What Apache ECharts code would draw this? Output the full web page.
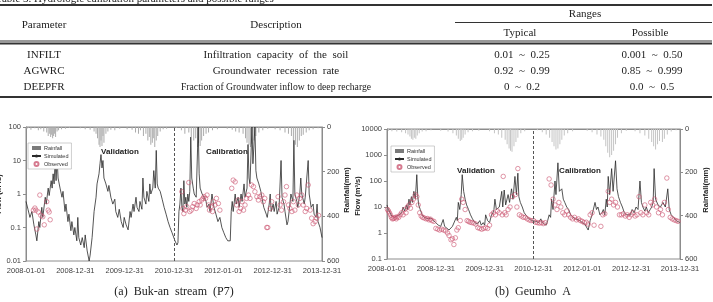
<!DOCTYPE html>
<html>
<head>
<meta charset="utf-8">
<script src="https://cdn.jsdelivr.net/npm/echarts@6/dist/echarts.min.js"></script>
<style>
html,body{margin:0;padding:0;background:#fff;}
#c{width:713px;height:302px;}
</style>
</head>
<body>
<div id="c"></div>
<script>
// ---------- Table data ----------
const tableCaption = 'Table 3. Hydrologic calibration parameters and possible ranges';
const tableHeaders = ['Parameter', 'Description', 'Ranges', 'Typical', 'Possible'];
const tableParams = ['INFILT', 'AGWRC', 'DEEPFR'];
const tableDescs = ['Infiltration  capacity  of  the  soil', 'Groundwater  recession  rate', 'Fraction of Groundwater inflow to deep recharge'];
const tableTypical = ['0.01  ~  0.25', '0.92  ~  0.99', '0  ~  0.2'];
const tablePossible = ['0.001  ~  0.50', '0.85  ~  0.999', '0.0  ~  0.5'];

// ---------- Axis tick labels ----------
const xTickLabels = ['2008-01-01', '2008-12-31', '2009-12-31', '2010-12-31', '2012-01-01', '2012-12-31', '2013-12-31'];
const aFlowTicks = ['0.01', '0.1', '1', '10', '100'];
const bFlowTicks = ['0.1', '1', '10', '100', '1000', '10000'];
const rainTicks = ['0', '200', '400', '600'];
const captions = ['(a)  Buk-an  stream  (P7)', '(b)  Geumho  A'];

// ---------- Chart (a) Buk-an stream: [decimal year, value] ----------
const aSimulated = [
[2008.00,0.6],[2008.04,0.35],[2008.08,0.2],[2008.12,0.3],[2008.16,0.12],[2008.20,0.06],[2008.22,0.04],[2008.26,0.15],[2008.28,0.1],
[2008.32,0.4],[2008.34,0.2],[2008.39,0.8],[2008.41,0.5],[2008.45,1.5],[2008.47,0.9],[2008.51,2.5],[2008.53,1.5],[2008.55,4],[2008.57,2],
[2008.59,10],[2008.61,2.5],[2008.63,12],[2008.65,3],[2008.69,1.5],[2008.73,0.8],[2008.75,1.2],[2008.79,0.3],[2008.81,0.5],[2008.85,0.15],
[2008.87,0.25],[2008.91,0.08],[2008.93,0.15],[2008.97,0.06],[2008.99,0.1],[2009.03,0.04],[2009.05,0.2],[2009.07,0.05],[2009.11,0.03],
[2009.14,0.05],[2009.18,0.025],[2009.20,0.06],[2009.24,0.02],[2009.28,0.01],[2009.30,0.015],[2009.34,0.05],[2009.38,0.3],[2009.42,0.8],
[2009.44,2],[2009.48,4],[2009.50,8],[2009.52,15],[2009.54,6],[2009.56,10],[2009.58,3],[2009.62,2],[2009.66,1.2],[2009.68,1.8],[2009.72,0.8],
[2009.76,0.5],[2009.80,0.7],[2009.82,0.3],[2009.86,0.2],[2009.89,0.35],[2009.93,0.15],[2009.97,0.1],[2009.99,0.2],[2010.03,0.12],[2010.07,0.085],
[2010.11,0.3],[2010.13,0.2],[2010.17,0.5],[2010.19,0.3],[2010.23,0.8],[2010.25,0.4],[2010.29,0.3],[2010.31,0.6],[2010.35,0.35],[2010.37,3],
[2010.39,0.8],[2010.43,0.5],[2010.45,1.2],[2010.49,0.6],[2010.51,2],[2010.53,1],[2010.57,1.5],[2010.59,5],[2010.62,1.5],[2010.64,20],
[2010.66,2],[2010.68,1.5],[2010.72,1.2],[2010.76,0.7],[2010.80,0.4],[2010.84,0.25],[2010.88,0.15],[2010.92,0.1],[2010.96,0.07],[2010.98,0.08],
[2011.02,0.04],[2011.06,0.03],[2011.08,0.035],[2011.10,0.3],[2011.12,0.5],[2011.14,1.5],[2011.16,0.4],[2011.18,0.3],[2011.20,2.5],[2011.22,0.5],
[2011.24,0.8],[2011.26,0.4],[2011.28,1],[2011.30,0.6],[2011.32,1.2],[2011.34,50],[2011.36,3],[2011.39,1.5],[2011.41,1],[2011.45,0.8],
[2011.49,100],[2011.51,4],[2011.53,1.5],[2011.57,1],[2011.61,0.8],[2011.65,0.6],[2011.67,0.4],[2011.71,0.5],[2011.73,0.3],[2011.77,1],
[2011.81,0.4],[2011.85,0.25],[2011.89,0.15],[2011.93,0.2],[2011.97,0.1],[2012.01,0.07],[2012.05,0.05],[2012.09,0.04],[2012.14,0.04],
[2012.16,0.3],[2012.18,0.6],[2012.20,0.3],[2012.24,1],[2012.26,0.5],[2012.30,0.8],[2012.32,0.4],[2012.36,1],[2012.38,0.6],[2012.42,2],
[2012.44,0.8],[2012.48,1.5],[2012.50,30],[2012.52,3],[2012.54,2],[2012.58,100],[2012.60,8],[2012.64,100],[2012.66,5],[2012.68,3],[2012.72,2],
[2012.76,1.2],[2012.78,0.8],[2012.82,0.4],[2012.87,0.25],[2012.89,0.2],[2012.93,0.5],[2012.95,1],[2012.97,0.3],[2013.01,0.5],[2013.03,0.3],
[2013.07,0.6],[2013.09,0.25],[2013.13,0.4],[2013.17,10],[2013.19,0.8],[2013.23,0.5],[2013.25,0.3],[2013.29,0.12],[2013.31,0.15],[2013.35,0.5],
[2013.37,1],[2013.41,0.6],[2013.43,40],[2013.45,1],[2013.49,0.6],[2013.51,0.4],[2013.55,1],[2013.57,3],[2013.59,1],[2013.64,0.5],[2013.66,0.8],
[2013.72,10],[2013.74,1],[2013.78,0.4],[2013.82,0.5],[2013.84,0.25],[2013.88,0.2],[2013.90,0.5],[2013.92,0.15],[2013.96,0.1],[2014.00,0.05]
];
const aObserved = [
[2008.15,0.33],[2008.18,0.38],[2008.20,0.33],[2008.22,0.09],[2008.25,0.29],[2008.28,0.93],[2008.30,0.23],[2008.34,0.21],[2008.37,0.12],
[2008.42,0.59],[2008.45,0.33],[2008.47,0.29],[2008.49,0.17],
[2011.16,1.17],[2011.18,0.37],[2011.20,0.26],[2011.23,0.33],[2011.26,0.42],[2011.30,2.2],[2011.32,0.30],[2011.35,0.33],[2011.38,0.42],
[2011.41,0.52],[2011.45,0.37],[2011.47,0.47],[2011.51,0.59],[2011.53,0.47],[2011.56,0.66],[2011.59,0.74],[2011.61,0.83],[2011.64,0.74],
[2011.67,0.93],[2011.70,0.47],[2011.72,0.33],[2011.75,0.42],[2011.78,0.30],[2011.80,0.59],[2011.83,0.47],[2011.86,0.74],[2011.90,0.52],
[2011.93,0.33],[2012.17,1.48],[2012.20,2.6],[2012.24,2.3],[2012.27,0.47],[2012.30,0.66],[2012.32,0.30],[2012.35,0.37],[2012.38,0.59],
[2012.41,0.33],[2012.44,0.47],[2012.47,0.74],[2012.51,0.93],[2012.54,0.74],[2012.57,1.86],[2012.61,1.66],[2012.64,1.17],[2012.68,0.83],
[2012.71,0.66],[2012.74,0.83],[2012.78,0.93],[2012.81,0.59],[2012.84,0.74],[2012.88,0.1],[2012.90,0.1],[2012.95,0.37],[2012.98,0.59],
[2013.11,0.83],[2013.15,0.47],[2013.18,0.33],[2013.22,0.59],[2013.25,0.93],[2013.28,1.66],[2013.32,0.47],[2013.35,0.37],[2013.39,0.30],
[2013.42,0.59],[2013.45,0.33],[2013.49,0.93],[2013.52,0.47],[2013.55,0.74],[2013.59,0.93],[2013.62,0.47],[2013.66,0.30],[2013.69,0.37],
[2013.72,1.86],[2013.76,0.33],[2013.79,0.19],[2013.82,0.13],[2013.86,0.15],[2013.89,0.19],[2013.93,0.23]
];
const aRainfall = [
[2008.02,8],[2008.05,5],[2008.10,12],[2008.18,6],[2008.25,15],[2008.30,10],[2008.36,20],[2008.42,25],[2008.45,40],[2008.48,30],[2008.50,45],
[2008.52,35],[2008.54,50],[2008.56,40],[2008.58,30],[2008.60,45],[2008.63,20],[2008.66,15],[2008.72,10],[2008.80,8],[2008.88,5],
[2009.10,6],[2009.20,10],[2009.30,12],[2009.38,20],[2009.42,30],[2009.45,50],[2009.48,80],[2009.50,90],[2009.52,60],[2009.54,85],[2009.56,40],
[2009.58,70],[2009.62,30],[2009.66,20],[2009.72,12],[2009.80,15],[2009.90,8],
[2010.05,10],[2010.15,12],[2010.22,25],[2010.28,30],[2010.32,15],[2010.38,40],[2010.43,30],[2010.47,60],[2010.50,45],[2010.53,80],[2010.56,70],
[2010.58,50],[2010.61,90],[2010.64,60],[2010.67,40],[2010.72,20],[2010.78,10],[2010.85,8],
[2011.05,5],[2011.15,15],[2011.22,30],[2011.30,25],[2011.35,45],[2011.40,60],[2011.44,50],[2011.48,90],[2011.50,70],[2011.53,85],[2011.56,60],
[2011.60,40],[2011.65,30],[2011.70,25],[2011.78,15],[2011.88,10],
[2012.08,8],[2012.18,12],[2012.25,20],[2012.32,25],[2012.40,30],[2012.45,50],[2012.48,70],[2012.52,80],[2012.55,90],[2012.58,75],[2012.62,60],
[2012.66,40],[2012.72,25],[2012.80,15],[2012.90,8],
[2013.05,10],[2013.15,15],[2013.25,25],[2013.32,30],[2013.38,40],[2013.42,60],[2013.46,80],[2013.50,90],[2013.54,60],[2013.58,40],[2013.62,35],
[2013.68,25],[2013.74,15],[2013.82,10],[2013.92,6]
];

// ---------- Chart (b) Geumho A: [decimal year, value] ----------
const bSimulated = [
[2008.00,12],[2008.03,8],[2008.06,6],[2008.10,4.5],[2008.15,4],[2008.20,4.5],[2008.25,5],[2008.30,6],[2008.33,10],[2008.36,7],[2008.40,12],
[2008.42,8],[2008.45,20],[2008.47,12],[2008.50,25],[2008.52,15],[2008.55,40],[2008.58,20],[2008.61,175],[2008.63,25],[2008.65,12],[2008.68,8],
[2008.72,5],[2008.76,4],[2008.80,4.5],[2008.85,3.5],[2008.90,3.8],[2008.95,3],[2009.00,2.5],[2009.05,2],[2009.10,1.8],[2009.15,3.3],[2009.18,1.8],
[2009.22,1.6],[2009.27,1.3],[2009.31,1.1],[2009.34,1.8],[2009.38,2],[2009.42,4],[2009.44,3],[2009.46,15],[2009.49,8],[2009.52,30],[2009.54,175],
[2009.57,40],[2009.60,20],[2009.63,12],[2009.67,8],[2009.71,5],[2009.75,3.5],[2009.80,2.5],[2009.85,2.2],[2009.90,3],[2009.93,2],[2009.97,2.5],
[2010.00,2],[2010.02,5],[2010.06,3],[2010.10,2.5],[2010.14,5],[2010.17,6],[2010.19,8],[2010.21,20],[2010.24,8],[2010.30,10],[2010.35,40],
[2010.37,10],[2010.40,45],[2010.43,12],[2010.48,30],[2010.51,15],[2010.55,50],[2010.58,20],[2010.62,150],[2010.65,30],[2010.68,200],[2010.70,25],
[2010.73,15],[2010.77,10],[2010.81,6],[2010.86,4.5],[2010.91,3.5],[2010.96,3],[2011.00,3],[2011.05,2.8],[2011.10,2.5],[2011.15,3.5],[2011.18,2.5],
[2011.22,2.2],[2011.26,2],[2011.29,3],[2011.32,5],[2011.35,4],[2011.37,20],[2011.40,8],[2011.44,100],[2011.46,30],[2011.50,500],[2011.53,40],
[2011.58,50],[2011.61,20],[2011.64,15],[2011.68,10],[2011.72,8],[2011.76,5],[2011.81,4],[2011.86,3.5],[2011.90,4],[2011.95,3],[2012.00,2.5],
[2012.05,2.2],[2012.09,2],[2012.12,1.3],[2012.16,3],[2012.20,5],[2012.26,15],[2012.29,8],[2012.32,10],[2012.36,5],[2012.40,6],[2012.43,8],
[2012.46,5],[2012.49,20],[2012.51,10],[2012.53,150],[2012.56,30],[2012.60,300],[2012.63,40],[2012.68,600],[2012.71,50],[2012.74,25],[2012.78,15],
[2012.82,10],[2012.86,6],[2012.90,5],[2012.94,5.5],[2012.98,5],[2013.02,8],[2013.06,6],[2013.10,10],[2013.14,8],[2013.18,100],[2013.21,15],
[2013.24,10],[2013.28,7],[2013.31,10],[2013.35,6],[2013.39,8],[2013.42,10],[2013.45,15],[2013.47,300],[2013.50,20],[2013.55,12],[2013.60,10],
[2013.65,15],[2013.70,10],[2013.75,50],[2013.78,8],[2013.82,5],[2013.87,4],[2013.92,3],[2013.96,2.8],[2014.00,2.5]
];
const bObserved = [
[2008.01,8],[2008.03,7],[2008.05,6],[2008.07,5],[2008.09,4],[2008.11,3.5],[2008.13,3.6],[2008.15,3.8],[2008.17,4],[2008.19,3.5],[2008.21,4.2],
[2008.24,4],[2008.27,5],[2008.30,6],[2008.33,5],[2008.36,8],[2008.39,6],[2008.42,10],[2008.45,12],[2008.48,9],[2008.51,15],[2008.54,20],
[2008.58,30],[2008.61,25],[2008.64,12],[2008.67,6],[2008.70,4.5],[2008.73,4],[2008.76,3.8],[2008.80,3.5],[2008.83,3.6],[2008.86,3.2],
[2008.89,3.4],[2008.92,3],[2008.96,2.8],[2009.00,1.5],[2009.04,1.4],[2009.08,1.3],[2009.12,1.4],[2009.16,1.3],[2009.20,1.2],[2009.24,1.0],
[2009.27,0.8],[2009.31,0.55],[2009.34,0.6],[2009.37,0.36],[2009.40,0.65],[2009.43,1.3],[2009.46,1.6],[2009.50,3],[2009.53,20],[2009.56,15],
[2009.60,8],[2009.64,3],[2009.67,2.8],[2009.70,2.6],[2009.74,2.5],[2009.78,2.4],[2009.82,2.2],[2009.86,1.6],[2009.90,1.5],[2009.94,1.4],
[2009.98,1.5],[2010.02,1.6],[2010.06,1.5],[2010.10,2],[2010.14,5],[2010.18,6],[2010.22,5],[2010.26,7],[2010.30,6],[2010.38,150],[2010.36,5],
[2010.41,6],[2010.44,5],[2010.48,8],[2010.52,10],[2010.57,25],[2010.68,300],[2010.63,30],[2010.66,10],[2010.71,5],[2010.75,4.5],[2010.79,4],
[2010.83,4],[2010.87,3.5],[2010.91,3.2],[2010.95,3],[2011.00,3],[2011.04,2.6],[2011.08,2.5],[2011.12,2.4],[2011.16,2.5],[2011.20,2.3],
[2011.24,2.5],[2011.32,120],[2011.36,70],[2011.40,20],[2011.44,12],[2011.48,8],[2011.52,15],[2011.56,10],[2011.60,6],[2011.64,5],[2011.68,7],
[2011.72,5],[2011.76,4],[2011.80,3.5],[2011.84,4],[2011.88,3.2],[2011.92,3.5],[2011.96,3],[2012.00,2.8],[2012.04,2.5],[2012.08,2.6],
[2012.12,2.2],[2012.16,5],[2012.20,6],[2012.24,2],[2012.38,1.8],[2012.42,5],[2012.46,5.5],[2012.53,40],[2012.56,15],[2012.60,20],[2012.64,12],
[2012.68,15],[2012.72,10],[2012.76,5],[2012.80,5],[2012.84,5.5],[2012.88,4.5],[2012.92,5],[2012.96,4],[2013.00,5],[2013.04,6],[2013.08,4.5],
[2013.12,5],[2013.16,25],[2013.20,6],[2013.24,5],[2013.28,12],[2013.32,6],[2013.36,5],[2013.40,15],[2013.44,12],[2013.48,20],[2013.52,10],
[2013.56,6],[2013.60,8],[2013.64,5],[2013.68,15],[2013.73,130],[2013.76,8],[2013.80,4],[2013.84,3.5],[2013.88,3.2],[2013.92,3],[2013.96,2.8]
];
const bRainfall = [
[2008.03,8],[2008.10,10],[2008.20,12],[2008.30,15],[2008.38,20],[2008.43,25],[2008.47,35],[2008.50,45],[2008.53,50],[2008.56,40],[2008.59,45],
[2008.62,30],[2008.66,20],[2008.72,12],[2008.80,10],[2008.90,6],
[2009.10,8],[2009.25,12],[2009.35,20],[2009.42,30],[2009.46,45],[2009.50,55],[2009.53,50],[2009.56,40],[2009.60,25],[2009.66,15],[2009.75,10],[2009.88,8],
[2010.10,10],[2010.20,20],[2010.28,25],[2010.35,40],[2010.42,50],[2010.46,70],[2010.50,90],[2010.53,100],[2010.56,105],[2010.60,80],[2010.64,60],
[2010.68,40],[2010.74,20],[2010.82,10],
[2011.08,6],[2011.18,15],[2011.26,25],[2011.33,40],[2011.38,60],[2011.42,80],[2011.46,95],[2011.50,90],[2011.54,70],[2011.58,50],[2011.63,30],
[2011.70,20],[2011.80,10],
[2012.10,8],[2012.20,15],[2012.30,25],[2012.38,35],[2012.44,50],[2012.48,80],[2012.52,110],[2012.56,130],[2012.60,120],[2012.64,100],[2012.68,70],
[2012.72,40],[2012.80,20],[2012.90,8],
[2013.08,10],[2013.18,20],[2013.28,30],[2013.36,45],[2013.42,60],[2013.46,80],[2013.50,95],[2013.54,70],[2013.58,55],[2013.64,60],[2013.68,45],
[2013.74,25],[2013.82,12],[2013.92,6]
];

// ---------- Rendering ----------
const chart = echarts.init(document.getElementById('c'), null, {renderer: 'canvas'});
const SERIF = '"Liberation Serif", "DejaVu Serif", serif';
const SANS = '"Liberation Sans", Arial, sans-serif';
const axisGray = '#8c8c8c';
const labelColor = '#404040';
const obsColor = '#cc5a74';

function xAxisCfg(gi) {
  return {
    type: 'value', gridIndex: gi, min: 2008, max: 2014, interval: 1,
    axisLine: {show: true, lineStyle: {color: axisGray}},
    axisTick: {show: false},
    splitLine: {show: false},
    axisLabel: {color: labelColor, fontSize: 7.5, fontFamily: SANS, margin: 6,
      formatter: v => xTickLabels[Math.round(v - 2008)]}
  };
}
function flowAxisCfg(gi, min, max, ticks) {
  const lo = Math.round(Math.log10(min));
  return {
    type: 'log', logBase: 10, gridIndex: gi, min: min, max: max, position: 'left',
    axisLine: {show: true, lineStyle: {color: axisGray}},
    axisTick: {show: true, length: 3, lineStyle: {color: axisGray}},
    minorTick: {show: false},
    splitLine: {show: false},
    axisLabel: {color: labelColor, fontSize: 7.5, fontFamily: SANS, margin: 5,
      formatter: v => ticks[Math.round(Math.log10(v)) - lo]}
  };
}
function rainAxisCfg(gi) {
  return {
    type: 'value', gridIndex: gi, min: 0, max: 600, interval: 200, inverse: true, position: 'right',
    axisLine: {show: true, lineStyle: {color: axisGray}},
    axisTick: {show: true, length: 3, lineStyle: {color: axisGray}},
    splitLine: {show: false},
    axisLabel: {color: labelColor, fontSize: 7.5, fontFamily: SANS, margin: 5,
      formatter: v => rainTicks[Math.round(v / 200)]}
  };
}
function legendCfg(left, top) {
  return {
    left: left, top: top, orient: 'vertical', itemWidth: 9, itemHeight: 4, itemGap: 2,
    padding: [2, 3, 2, 3], borderColor: '#b0b0b0', borderWidth: 0.6, backgroundColor: '#fff',
    textStyle: {fontSize: 5.5, color: '#333', fontFamily: SANS, padding: [0, 0, 0, -2]},
    data: [
      {name: 'Rainfall', icon: 'rect', itemStyle: {color: '#7a7a7a'}},
      {name: 'Simulated'},
      {name: 'Observed', icon: 'circle'}
    ]
  };
}
function seriesFor(xi, yFlow, yRain, rain, sim, obs, rainColor) {
  return [
    {name: 'Rainfall', type: 'bar', xAxisIndex: xi, yAxisIndex: yRain, data: rain, barWidth: 0.7,
      itemStyle: {color: rainColor}, z: 1, silent: true, animation: false},
    {name: 'Simulated', type: 'line', xAxisIndex: xi, yAxisIndex: yFlow, data: sim, symbol: 'none',
      lineStyle: {color: '#2a2a2a', width: 0.8}, itemStyle: {color: '#2a2a2a'}, z: 3, animation: false,
      markLine: {silent: true, symbol: 'none', label: {show: false},
        lineStyle: {type: [3, 2], color: '#555', width: 1},
        data: [{xAxis: 2011}]}},
    {name: 'Observed', type: 'scatter', xAxisIndex: xi, yAxisIndex: yFlow, data: obs, symbol: 'circle', symbolSize: 4.5,
      itemStyle: {color: 'rgba(255,255,255,0)', borderColor: obsColor, borderWidth: 0.8}, z: 4, animation: false}
  ];
}

// Table graphics
const g = [];
function txt(t, x, y, extra) {
  const el = {type: 'text', x: x, y: y, style: {text: t, font: '11px ' + SERIF, fill: '#222', textAlign: 'center', textVerticalAlign: 'middle'}};
  if (extra) Object.assign(el, extra);
  g.push(el);
}
function hline(x1, x2, y, w) {
  g.push({type: 'line', shape: {x1: x1, y1: y, x2: x2, y2: y}, style: {stroke: '#333', lineWidth: w}});
}
g.push({type: 'text', x: -4, y: -1, style: {text: tableCaption, font: '11px ' + SERIF, fill: '#222', textAlign: 'left', textVerticalAlign: 'middle'}});
hline(0, 712, 5, 2);
txt(tableHeaders[2], 585, 14);
hline(455, 712, 22.5, 1);
txt(tableHeaders[0], 44, 25);
txt(tableHeaders[1], 276, 25);
txt(tableHeaders[3], 520, 33);
txt(tableHeaders[4], 650, 33);
hline(0, 712, 41, 1);
hline(0, 712, 43.5, 2);
const rowY = [55, 71, 87];
for (let i = 0; i < 3; i++) {
  txt(tableParams[i], 44, rowY[i]);
  txt(tableDescs[i], 276, rowY[i], i === 2 ? {scaleX: 0.88, originX: 0, originY: 0} : null);
  txt(tableTypical[i], 522, rowY[i]);
  txt(tablePossible[i], 652, rowY[i]);
}
hline(0, 712, 97, 2);
// captions
txt(captions[0], 174, 292, {style: {text: captions[0], font: '12px ' + SERIF, fill: '#222', textAlign: 'center', textVerticalAlign: 'middle'}});
txt(captions[1], 533, 292, {style: {text: captions[1], font: '12px ' + SERIF, fill: '#222', textAlign: 'center', textVerticalAlign: 'middle'}});
// axis titles and period labels
function rot(t, x, y) {
  g.push({type: 'text', x: x, y: y, rotation: Math.PI / 2,
    style: {text: t, font: 'bold 7.5px ' + SANS, fill: '#222', textAlign: 'center', textVerticalAlign: 'middle'}});
}
rot('Flow (m\u00B3/s)', -1, 194);
rot('Rainfall(mm)', 347, 190);
rot('Flow (m\u00B3/s)', 358, 196);
rot('Rainfall(mm)', 706, 190);
function bold(t, x, y) {
  g.push({type: 'text', x: x, y: y, style: {text: t, font: 'bold 8px ' + SANS, fill: '#222', textAlign: 'center', textVerticalAlign: 'middle'}});
}
bold('Validation', 120, 152);
bold('Calibration', 227, 152);
bold('Validation', 476, 171);
bold('Calibration', 580, 171);

const option = {
  animation: false,
  backgroundColor: '#fff',
  grid: [
    {left: 26, top: 127, width: 296, height: 134, show: true, borderColor: axisGray, borderWidth: 1, backgroundColor: 'transparent'},
    {left: 387, top: 129, width: 293, height: 130, show: true, borderColor: axisGray, borderWidth: 1, backgroundColor: 'transparent'}
  ],
  xAxis: [xAxisCfg(0), xAxisCfg(1)],
  yAxis: [flowAxisCfg(0, 0.01, 100, aFlowTicks), rainAxisCfg(0), flowAxisCfg(1, 0.1, 10000, bFlowTicks), rainAxisCfg(1)],
  legend: [legendCfg(28, 143), legendCfg(391, 146)],
  series: [].concat(
    seriesFor(0, 0, 1, aRainfall, aSimulated, aObserved, '#ababab'),
    seriesFor(1, 2, 3, bRainfall, bSimulated, bObserved, '#c4c4c4')
  ),
  graphic: g
};
chart.setOption(option);
</script>
</body>
</html>
